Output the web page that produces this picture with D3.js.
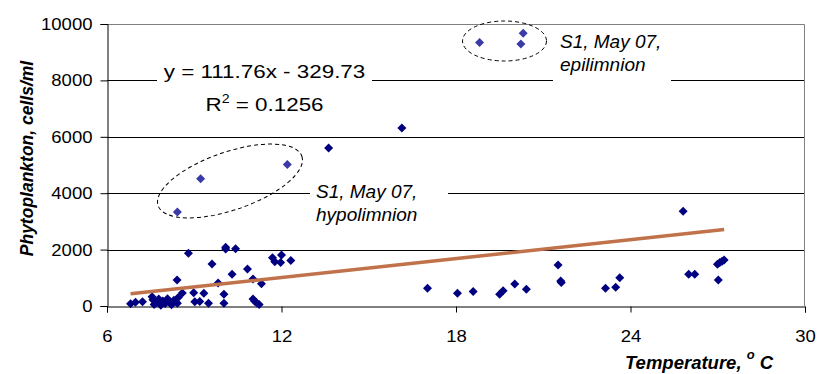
<!DOCTYPE html>
<html>
<head>
<meta charset="utf-8">
<script src="https://cdn.jsdelivr.net/npm/d3@7"></script>
<style>
  body { margin: 0; background: #fff; }
  svg { display: block; font-family: "Liberation Sans", Arial, sans-serif; }
</style>
</head>
<body>
<div class="chart"></div>
<script>
// Phytoplankton vs temperature, all samples
var temps = [6.81, 6.98, 7.22, 7.55, 7.58, 7.62, 7.70, 7.78, 7.85, 7.92, 8.00, 8.08, 8.15, 8.22, 8.30,
  8.42, 8.45, 8.41, 8.59, 8.80, 8.98, 9.02, 9.19, 9.33, 9.49, 9.61, 9.82, 10.02, 10.02, 10.08,
  10.08, 10.42, 10.30, 10.83, 11.02, 11.31, 11.02, 11.08, 11.15, 11.23, 11.69, 11.77, 12.00, 11.97,
  12.32, 13.62, 16.14, 17.02, 18.05, 18.59, 19.50, 19.62, 20.02, 20.42, 21.51, 21.60, 21.62,
  23.14, 23.49, 23.63, 25.81, 26.00, 26.21, 27.02, 26.99, 27.07, 27.15, 27.22];
var cells = [80, 130, 150, 330, 220, 50, 120, 250, 30, 180, 90, 260, 130, 40, 200,
  100, 300, 920, 460, 1870, 470, 150, 160, 450, 100, 1490, 820, 420, 100, 2020,
  2080, 2030, 1130, 1310, 960, 790, 250, 170, 110, 50, 1715, 1570, 1810, 1540,
  1610, 5600, 6310, 630, 450, 510, 415, 545, 780, 590, 1455, 890, 830,
  630, 665, 1005, 3360, 1125, 1125, 925, 1480, 1540, 1590, 1635];

// S1, May 07 samples (circled)
var s1Temps = [8.42, 9.22, 12.20, 18.81, 20.31, 20.23];
var s1Cells = [3330, 4510, 5015, 9340, 9670, 9290];

var xTicks = [6, 12, 18, 24, 30];
var yTicks = [0, 2000, 4000, 6000, 8000, 10000];

// linear trendline from the chart
var slope = 111.76, intercept = -329.73;

var svgWidth = 818, svgHeight = 374;
var margin = { top: 24, right: 13, bottom: 68, left: 107 };
var width = svgWidth - margin.left - margin.right;
var height = svgHeight - margin.top - margin.bottom;

var svg = d3.select(".chart").append("svg")
  .attr("width", svgWidth)
  .attr("height", svgHeight);

var chartGroup = svg.append("g")
  .attr("transform", `translate(${margin.left}, ${margin.top})`);

var x = d3.scaleLinear().domain([6, 30]).range([0, width]);
var y = d3.scaleLinear().domain([0, 10000]).range([height, 0]);

// gridlines
chartGroup.selectAll(".grid")
  .data(yTicks.filter(d => d > 0 && d < 10000))
  .enter().append("line")
  .attr("x1", 0).attr("x2", width)
  .attr("y1", d => Math.round(y(d)) + 0.5)
  .attr("y2", d => Math.round(y(d)) + 0.5)
  .attr("stroke", "#000").attr("stroke-width", 1);

// plot area border top / right
chartGroup.append("path")
  .attr("d", `M0,0.5H${width - 0.5}V${height}`)
  .attr("fill", "none").attr("stroke", "#808080");

// axes
var leftAxis = d3.axisLeft(y).tickValues(yTicks).tickSize(7).tickPadding(8).tickFormat(d3.format("d"));
var bottomAxis = d3.axisBottom(x).tickValues(xTicks).tickSize(6).tickPadding(17);

var yAxis = chartGroup.append("g").attr("transform", "translate(0.5,0)").call(leftAxis);
var xAxis = chartGroup.append("g").attr("transform", `translate(0, ${height + 0.5})`).call(bottomAxis);

[yAxis, xAxis].forEach(function (ax) {
  ax.select(".domain").attr("stroke", "#000");
  ax.selectAll(".tick line").attr("stroke", "#000");
  ax.selectAll("text")
    .attr("font-size", 17)
    .attr("font-family", "Liberation Sans, Arial, sans-serif")
    .attr("fill", "#000")
    .attr("textLength", function () { return this.textContent.length * 10.3; })
    .attr("lengthAdjust", "spacingAndGlyphs");
});

// white boxes behind labels (they cut the gridlines)
var boxes = [
  { x: 157, y: 56, w: 215, h: 62 },
  { x: 553, y: 30, w: 118, h: 55 },
  { x: 310, y: 180, w: 138, h: 46 }
];
svg.selectAll(".lblbox").data(boxes).enter().append("rect")
  .attr("x", d => d.x).attr("y", d => d.y)
  .attr("width", d => d.w).attr("height", d => d.h)
  .attr("fill", "#fff");

// dashed ellipses
svg.append("ellipse")
  .attr("transform", "translate(230,181) rotate(-19)")
  .attr("rx", 76).attr("ry", 29)
  .attr("fill", "none").attr("stroke", "#000").attr("stroke-dasharray", "4,3");
svg.append("ellipse")
  .attr("cx", 504.5).attr("cy", 41)
  .attr("rx", 42).attr("ry", 20)
  .attr("fill", "none").attr("stroke", "#000").attr("stroke-dasharray", "4,3");

var diamond = "M0,-4.5L4.5,0L0,4.5L-4.5,0Z";

chartGroup.selectAll(".pt")
  .data(temps.map((t, i) => [t, cells[i]]))
  .enter().append("path")
  .attr("d", diamond)
  .attr("transform", d => `translate(${x(d[0])},${y(d[1])})`)
  .attr("fill", "#000080");

chartGroup.selectAll(".s1")
  .data(s1Temps.map((t, i) => [t, s1Cells[i]]))
  .enter().append("path")
  .attr("d", diamond)
  .attr("transform", d => `translate(${x(d[0])},${y(d[1])})`)
  .attr("fill", "#3b3ba8");

// trendline over the data range
var allT = temps.concat(s1Temps);
var tMin = d3.min(allT), tMax = d3.max(allT);
chartGroup.append("line")
  .attr("x1", x(tMin)).attr("y1", y(slope * tMin + intercept))
  .attr("x2", x(tMax)).attr("y2", y(slope * tMax + intercept))
  .attr("stroke", "#c0724a").attr("stroke-width", 3.5);

// equation label
var eq = svg.append("g").attr("transform", "translate(264.5,0) scale(1.18,1)")
  .attr("font-size", 19).attr("text-anchor", "middle");
eq.append("text").attr("y", 78).text("y = 111.76x - 329.73");
var r2 = eq.append("text").attr("y", 111);
r2.append("tspan").text("R");
r2.append("tspan").attr("dy", -8).attr("font-size", 12).text("2");
r2.append("tspan").attr("dy", 8).text(" = 0.1256");

// annotations
function note(px, py, lines) {
  var t = svg.append("text").attr("font-size", 19).attr("font-style", "italic");
  lines.forEach(function (l, i) {
    t.append("tspan").attr("x", px).attr("y", py + i * 23).text(l);
  });
}
note(560, 48, ["S1, May 07,", "epilimnion"]);
note(316, 198, ["S1, May 07,", "hypolimnion"]);

// axis titles
svg.append("text")
  .attr("transform", "translate(33,158.5) rotate(-90)")
  .attr("text-anchor", "middle")
  .attr("font-size", 17.5).attr("font-weight", "bold").attr("font-style", "italic")
  .text("Phytoplankton, cells/ml");

var xt = svg.append("text")
  .attr("x", 625).attr("y", 369)
  .attr("font-size", 18.5).attr("font-weight", "bold").attr("font-style", "italic");
xt.append("tspan").text("Temperature, ");
xt.append("tspan").attr("dy", -10).attr("font-size", 13).text("o");
xt.append("tspan").attr("dy", 10).text(" C");
</script>
</body>
</html>
